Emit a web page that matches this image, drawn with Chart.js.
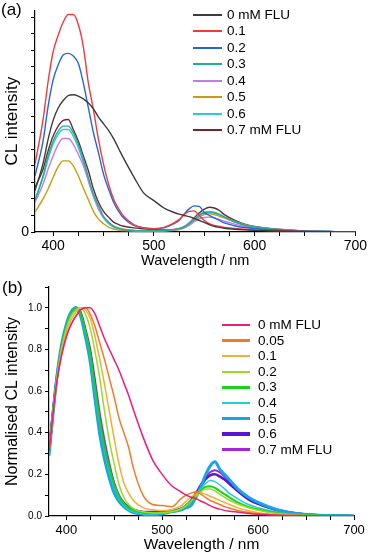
<!DOCTYPE html>
<html>
<head>
<meta charset="utf-8">
<script src="https://cdn.jsdelivr.net/npm/chart.js@4.4.1/dist/chart.umd.min.js"></script>
<style>
  html, body { margin: 0; padding: 0; background: #fff; }
  body { width: 369px; height: 557px; position: relative; overflow: hidden;
         font-family: 'Liberation Sans', Arial, sans-serif; color: #000; }
  canvas { position: absolute; left: 0; }
  #chartA { top: 0; }
  #chartB { top: 278px; }
  .panel { position: absolute; font-size: 17px; line-height: 16px; }
  .legend { position: absolute; font-size: 13.5px; }
  .legend .row { position: absolute; left: 0; height: 0; white-space: nowrap; }
  .legend .sw { position: absolute; left: 0; }
  .legend .lb { position: absolute; top: -8px; line-height: 16px; }
</style>
</head>
<body>
<canvas id="chartA" width="369" height="278"></canvas>
<canvas id="chartB" width="369" height="279"></canvas>
<div class="panel" style="left:1px;top:2px">(a)</div>
<div class="panel" style="left:2px;top:280px">(b)</div>
<div class="legend" id="legendA" style="left:193px;top:15px"></div>
<div class="legend" id="legendB" style="left:222px;top:325px"></div>
<script>
// wavelength grid (nm) shared by both panels
const wavelengths = [382, 390, 395, 400, 405, 410, 415, 420, 425, 430, 435, 440, 445, 450, 455, 460, 465, 470, 480, 490,
  500, 510, 520, 525, 530, 535, 540, 545, 550, 555, 560, 565, 570, 580, 590, 600, 620, 640, 660, 680, 700];

// (a) CL intensity (arbitrary units)
const labelsA = ["0 mM FLU", "0.1", "0.2", "0.3", "0.4", "0.5", "0.6", "0.7 mM FLU"];
const a_0mM = [2.5, 4.15, 5.6, 6.75, 7.5, 7.95, 8.25, 8.3, 8.22, 8.05, 7.8, 7.45, 6.95, 6.55, 6.15, 5.65, 5.05, 4.45, 3.35, 2.35,
  1.9, 1.45, 1.18, 1.08, 1.0, 0.93, 0.82, 0.7, 0.58, 0.45, 0.34, 0.28, 0.23, 0.17, 0.13, 0.1, 0.06, 0.04, 0.02, 0.01, 0];
const a_01 = [4.1, 6.8, 9.1, 10.9, 11.9, 12.7, 13.15, 13.15, 12.55, 11.2, 9.0, 7.4, 5.6, 4.1, 2.9, 2.0, 1.4, 0.95, 0.45, 0.25,
  0.2, 0.28, 0.55, 0.75, 1.05, 1.25, 1.28, 1.0, 0.7, 0.5, 0.4, 0.33, 0.28, 0.22, 0.17, 0.13, 0.08, 0.05, 0.03, 0.01, 0];
const a_02 = [3.4, 5.5, 7.6, 9.2, 10.1, 10.7, 10.8, 10.65, 10.2, 9.0, 7.5, 6.0, 4.8, 3.5, 2.6, 1.8, 1.25, 0.85, 0.4, 0.25,
  0.2, 0.25, 0.5, 0.7, 1.08, 1.4, 1.58, 1.55, 1.2, 1.0, 0.85, 0.7, 0.55, 0.38, 0.27, 0.2, 0.12, 0.07, 0.04, 0.02, 0];
const a_03 = [1.9, 3.4, 4.6, 5.5, 6.1, 6.4, 6.4, 6.0, 5.3, 4.4, 3.3, 2.3, 1.6, 0.95, 0.6, 0.35, 0.22, 0.15, 0.1, 0.08,
  0.08, 0.1, 0.13, 0.2, 0.3, 0.5, 0.75, 1.0, 1.15, 1.2, 1.15, 1.05, 0.9, 0.62, 0.42, 0.3, 0.16, 0.09, 0.05, 0.02, 0];
const a_04 = [1.8, 2.9, 3.8, 4.6, 5.3, 5.65, 5.65, 5.3, 4.7, 4.0, 3.1, 2.2, 1.4, 0.9, 0.58, 0.36, 0.24, 0.17, 0.1, 0.08,
  0.07, 0.08, 0.12, 0.17, 0.25, 0.42, 0.62, 0.8, 0.88, 0.9, 0.85, 0.75, 0.65, 0.48, 0.35, 0.25, 0.13, 0.07, 0.04, 0.02, 0];
const a_05 = [1.2, 2.0, 2.6, 3.3, 3.95, 4.3, 4.3, 4.0, 3.4, 2.65, 1.95, 1.25, 0.78, 0.5, 0.3, 0.18, 0.12, 0.08, 0.05, 0.04,
  0.05, 0.07, 0.1, 0.15, 0.25, 0.42, 0.65, 0.9, 1.05, 1.1, 1.05, 0.95, 0.85, 0.6, 0.42, 0.3, 0.15, 0.08, 0.04, 0.02, 0];
const a_06 = [1.95, 3.3, 4.4, 5.3, 5.9, 6.2, 6.2, 5.8, 5.1, 4.2, 3.1, 2.15, 1.4, 0.85, 0.5, 0.3, 0.2, 0.13, 0.08, 0.06,
  0.06, 0.08, 0.12, 0.2, 0.3, 0.52, 0.8, 1.05, 1.2, 1.25, 1.2, 1.08, 0.92, 0.65, 0.45, 0.32, 0.17, 0.09, 0.05, 0.02, 0];
const a_07 = [2.7, 3.8, 4.9, 5.8, 6.4, 6.75, 6.8, 6.2, 5.5, 4.6, 3.7, 2.6, 1.8, 1.25, 0.9, 0.6, 0.45, 0.35, 0.25, 0.2,
  0.15, 0.12, 0.15, 0.22, 0.32, 0.55, 0.85, 1.15, 1.38, 1.5, 1.45, 1.3, 1.05, 0.72, 0.48, 0.33, 0.18, 0.1, 0.05, 0.02, 0];
const colorsA = ["#3c3c3c", "#f23a3a", "#2266e0", "#1fae96", "#c77ae6", "#cc9a10", "#2cc8dc", "#6e2a2a"];

// (b) normalised CL intensity
const labelsB = ["0 mM FLU", "0.05", "0.1", "0.2", "0.3", "0.4", "0.5", "0.6", "0.7 mM FLU"];
const b_0mM = [0.31, 0.64, 0.77, 0.86, 0.92, 0.96, 0.99, 1.0, 1.0, 0.97, 0.91, 0.85, 0.8, 0.75, 0.7, 0.64, 0.58, 0.51, 0.38, 0.27,
  0.2, 0.145, 0.115, 0.1, 0.09, 0.084, 0.072, 0.062, 0.05, 0.04, 0.033, 0.027, 0.023, 0.018, 0.012, 0.008, 0.004, 0.002, 0.001, 0, 0];
const b_005 = [0.31, 0.64, 0.77, 0.86, 0.92, 0.96, 0.99, 1.0, 0.97, 0.91, 0.83, 0.75, 0.66, 0.57, 0.47, 0.4, 0.33, 0.23, 0.1, 0.055,
  0.05, 0.045, 0.085, 0.1, 0.11, 0.115, 0.105, 0.09, 0.075, 0.065, 0.055, 0.045, 0.038, 0.025, 0.017, 0.011, 0.005, 0.002, 0.001, 0, 0];
const b_01 = [0.31, 0.65, 0.79, 0.88, 0.94, 0.98, 1.0, 0.99, 0.95, 0.86, 0.75, 0.63, 0.5, 0.37, 0.25, 0.16, 0.11, 0.075, 0.04, 0.03,
  0.025, 0.03, 0.05, 0.07, 0.09, 0.105, 0.11, 0.105, 0.095, 0.085, 0.075, 0.065, 0.055, 0.038, 0.025, 0.016, 0.007, 0.003, 0.001, 0, 0];
const b_02 = [0.31, 0.65, 0.8, 0.9, 0.96, 0.99, 1.0, 0.97, 0.9, 0.79, 0.66, 0.5, 0.36, 0.25, 0.15, 0.09, 0.055, 0.035, 0.02, 0.015,
  0.015, 0.02, 0.035, 0.05, 0.07, 0.095, 0.115, 0.13, 0.13, 0.12, 0.105, 0.09, 0.077, 0.055, 0.04, 0.028, 0.012, 0.005, 0.002, 0, 0];
const b_03 = [0.31, 0.66, 0.81, 0.91, 0.97, 1.0, 0.97, 0.89, 0.78, 0.62, 0.46, 0.33, 0.23, 0.15, 0.095, 0.06, 0.04, 0.028, 0.017, 0.014,
  0.016, 0.022, 0.035, 0.05, 0.07, 0.095, 0.12, 0.14, 0.143, 0.135, 0.12, 0.105, 0.09, 0.063, 0.044, 0.031, 0.014, 0.006, 0.002, 0.001, 0];
const b_04 = [0.3, 0.66, 0.81, 0.91, 0.97, 1.0, 0.97, 0.88, 0.77, 0.6, 0.44, 0.31, 0.21, 0.135, 0.085, 0.05, 0.03, 0.02, 0.01, 0.01,
  0.015, 0.02, 0.035, 0.05, 0.07, 0.1, 0.13, 0.155, 0.17, 0.165, 0.15, 0.13, 0.11, 0.08, 0.055, 0.04, 0.018, 0.008, 0.003, 0.001, 0];
const b_05 = [0.29, 0.66, 0.82, 0.92, 0.98, 1.0, 0.96, 0.86, 0.74, 0.56, 0.39, 0.27, 0.18, 0.11, 0.07, 0.045, 0.028, 0.017, 0.008, 0.006,
  0.01, 0.02, 0.03, 0.04, 0.05, 0.09, 0.135, 0.195, 0.24, 0.26, 0.225, 0.2, 0.175, 0.125, 0.09, 0.065, 0.03, 0.012, 0.005, 0.002, 0];
const b_06 = [0.31, 0.66, 0.81, 0.91, 0.97, 1.0, 0.97, 0.88, 0.78, 0.62, 0.45, 0.32, 0.22, 0.14, 0.09, 0.06, 0.04, 0.03, 0.018, 0.015,
  0.02, 0.025, 0.035, 0.05, 0.07, 0.1, 0.14, 0.175, 0.195, 0.2, 0.19, 0.175, 0.155, 0.115, 0.08, 0.058, 0.028, 0.012, 0.005, 0.002, 0];
const b_07 = [0.32, 0.66, 0.81, 0.91, 0.97, 0.995, 0.98, 0.9, 0.8, 0.65, 0.49, 0.36, 0.25, 0.16, 0.1, 0.065, 0.045, 0.032, 0.02, 0.02,
  0.02, 0.025, 0.035, 0.05, 0.075, 0.11, 0.15, 0.185, 0.21, 0.22, 0.21, 0.19, 0.165, 0.12, 0.085, 0.06, 0.03, 0.013, 0.005, 0.002, 0];
const colorsB = ["#ec1c7c", "#f47a2a", "#f5ac3a", "#98dc28", "#18d418", "#22cfd6", "#18a4ea", "#5a14d4", "#a424dc"];
const widthsB = [1.5, 1.5, 1.5, 1.5, 2, 1.5, 3, 2.5, 2];

const xTicksA = [400, 500, 600, 700];

const FONT = "'Liberation Sans', Arial, sans-serif";

function toPoints(ys) {
  return ys.map((y, i) => ({ x: wavelengths[i], y: y }));
}

function makeDatasets(series, labels, colors, widths) {
  return series.map((ys, i) => ({
    label: labels[i],
    data: toPoints(ys),
    borderColor: colors[i],
    borderWidth: widths ? widths[i] : 1.4,
    pointRadius: 0,
    cubicInterpolationMode: "monotone",
    fill: false
  }));
}

function buildLegend(id, labels, colors, widths, step, swW, gap) {
  const box = document.getElementById(id);
  labels.forEach((lab, i) => {
    const row = document.createElement("div");
    row.className = "row";
    row.style.top = (i * step) + "px";
    const w = widths ? Math.min(widths[i] + 1, 3.5) : 2;
    row.innerHTML = '<div class="sw" style="width:' + swW + 'px;height:' + w + 'px;top:' + (-w / 2) + 'px;background:' + colors[i] + '"></div>' +
      '<div class="lb" style="left:' + (swW + gap) + 'px">' + lab + '</div>';
    box.appendChild(row);
  });
}

const axisCommon = {
  type: "linear",
  border: { display: true, color: "#000", width: 1.2 },
  grid: { drawOnChartArea: false, drawTicks: true, tickLength: 4, color: "#000" }
};

// panel (a)
new Chart(document.getElementById("chartA"), {
  type: "line",
  data: { datasets: makeDatasets([a_0mM, a_01, a_02, a_03, a_04, a_05, a_06, a_07], labelsA, colorsA) },
  options: {
    responsive: false,
    animation: false,
    events: [],
    layout: { padding: { top: 5, right: 12, left: 0, bottom: 0 } },
    plugins: { legend: { display: false }, tooltip: { enabled: false } },
    scales: {
      x: {
        ...axisCommon,
        min: 382, max: 700,
        afterFit: (s) => { s.height = 46; },
        ticks: {
          stepSize: 25, includeBounds: false, autoSkip: false, maxRotation: 0, padding: 2,
          color: "#000", font: { family: FONT, size: 14 },
          callback: (v) => (xTicksA.includes(v) ? String(v) : "")
        },
        title: { display: true, text: "Wavelength / nm", color: "#000",
                 font: { family: FONT, size: 14.5 }, padding: { top: 0, bottom: 8 } }
      },
      y: {
        ...axisCommon,
        min: 0, max: 13.4,
        afterFit: (s) => { s.width = 35; },
        ticks: {
          stepSize: 1, includeBounds: false, autoSkip: false, padding: 2,
          color: "#000", font: { family: FONT, size: 14 },
          callback: (v) => (v === 0 ? "0" : "")
        },
        title: { display: true, text: "CL intensity", color: "#000",
                 font: { family: FONT, size: 17 }, padding: { top: 2.3, bottom: 0 } }
      }
    }
  }
});

// panel (b)
new Chart(document.getElementById("chartB"), {
  type: "line",
  data: { datasets: makeDatasets([b_0mM, b_005, b_01, b_02, b_03, b_04, b_05, b_06, b_07], labelsB, colorsB, widthsB) },
  options: {
    responsive: false,
    animation: false,
    events: [],
    layout: { padding: { top: 7, right: 15, left: 0, bottom: 0 } },
    plugins: { legend: { display: false }, tooltip: { enabled: false } },
    scales: {
      x: {
        ...axisCommon,
        min: 382, max: 700,
        afterFit: (s) => { s.height = 41; },
        ticks: {
          stepSize: 25, includeBounds: false, autoSkip: false, maxRotation: 0, padding: 3,
          color: "#000", font: { family: FONT, size: 13 },
          callback: (v) => (v % 100 === 0 ? String(v) : "")
        },
        title: { display: true, text: "Wavelength / nm", color: "#000",
                 font: { family: FONT, size: 15.5 }, padding: { top: 0, bottom: 2.7 } }
      },
      y: {
        ...axisCommon,
        min: 0, max: 1.1,
        afterFit: (s) => { s.width = 49; },
        ticks: {
          stepSize: 0.1, includeBounds: false, autoSkip: false, padding: 3,
          color: "#000", font: { family: FONT, size: 10 },
          callback: (v) => (Math.round(v * 10) % 2 === 0 ? v.toFixed(1) : "")
        },
        title: { display: true, text: "Normalised CL intensity", color: "#000",
                 font: { family: FONT, size: 16 }, padding: { top: 2.9, bottom: 0 } }
      }
    }
  }
});

buildLegend("legendA", labelsA, colorsA, null, 16.43, 29, 5);
buildLegend("legendB", labelsB, colorsB, widthsB, 15.6, 28, 8);
</script>
</body>
</html>
